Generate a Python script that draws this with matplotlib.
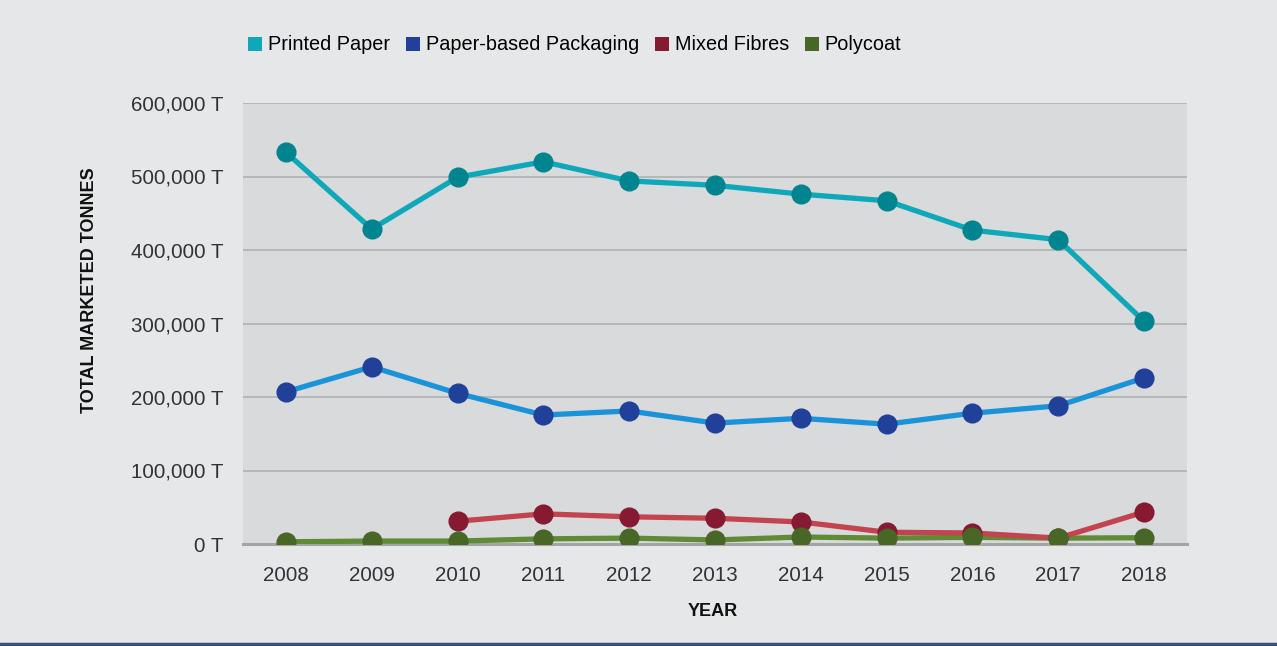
import matplotlib
matplotlib.use("Agg")
import matplotlib.pyplot as plt
from matplotlib.lines import Line2D
from matplotlib.patches import Patch
from matplotlib.ticker import FuncFormatter

years = [2008, 2009, 2010, 2011, 2012, 2013, 2014, 2015, 2016, 2017, 2018]
printed_paper = [533000, 428500, 499000, 520000, 494000, 488000, 476000, 467000, 427000, 414000, 303000]
packaging = [207000, 241000, 205000, 175500, 181000, 164500, 171000, 163000, 178000, 188000, 226000]
mixed_years = [2010, 2011, 2012, 2013, 2014, 2015, 2016, 2017, 2018]
mixed_fibres = [31000, 41000, 37000, 35000, 30000, 16000, 15000, 8000, 43500]
polycoat = [3000, 4000, 4000, 7000, 8000, 5500, 9500, 8000, 9000, 8000, 8500]
yticks = [0, 100000, 200000, 300000, 400000, 500000, 600000]
series_names = ["Printed Paper", "Paper-based Packaging", "Mixed Fibres", "Polycoat"]

plt.rcParams['font.family'] = ['Liberation Sans', 'DejaVu Sans']

fig = plt.figure(figsize=(12.77, 6.46), dpi=100)
fig.patch.set_facecolor('#e6e7e8')
ax = fig.add_axes([243/1277, 102/646, 944/1277, 441/646])
ax.set_facecolor('#d9dadb')

ser = [
    (years, printed_paper, '#0ea8b9', '#00848f'),
    (years, packaging, '#1a93d9', '#21409a'),
    (years, polycoat, '#5f8a36', '#486626'),
    (mixed_years, mixed_fibres, '#c1444f', '#851a32'),
]
for i, (x, y, lc, mc) in enumerate(ser):
    ax.plot(x, y, color=lc, lw=3.8, zorder=3 + i, solid_capstyle='round')
for i, (x, y, lc, mc) in enumerate([ser[0], ser[1], ser[3], ser[2]]):
    ax.plot(x, y, ls='none', marker='o', ms=13.5, color=mc, mec=mc, zorder=10 + i)

ax.set_xlim(2007.5, 2018.5)
ax.set_ylim(0, 600000)
ax.set_xticks(years)
ax.set_yticks(yticks)
ax.yaxis.set_major_formatter(FuncFormatter(lambda v, p: f"{int(v):,} T"))
ax.tick_params(length=0, labelsize=14.8, labelcolor='#333333')
ax.tick_params(axis='y', pad=14)
ax.tick_params(axis='x', pad=16)
ax.grid(axis='y', color='#b0b1b3', lw=1.2, zorder=1)
ax.set_axisbelow(True)
for s in ['top', 'right', 'left']:
    ax.spines[s].set_visible(False)
ax.spines['bottom'].set_color('#a3a4a6')
ax.spines['bottom'].set_linewidth(2.2)
ax.spines['bottom'].set_zorder(2)

fig.text(90/1277, 1 - 290/646, "TOTAL MARKETED TONNES", rotation=90, ha='center', va='center',
         fontsize=13, fontweight='bold', color='#111111')
fig.text(713/1277, 1 - 611/646, "YEAR", ha='center', va='center',
         fontsize=13, fontweight='bold', color='#111111')

handles = [Patch(facecolor=c, edgecolor='none') for c in ['#0ea8b9', '#21409a', '#851a32', '#486626']]
fig.legend(handles, series_names, loc='center left', bbox_to_anchor=(240/1277, 1 - 45/646),
           ncol=4, frameon=False, fontsize=14.3, handlelength=0.7, handleheight=0.7,
           handletextpad=0.3, columnspacing=0.8, borderaxespad=0)

fig.add_artist(Line2D([0, 1], [2.5/646, 2.5/646], color='#3a4f7a', lw=2.5, transform=fig.transFigure))

fig.savefig('out.png', dpi=100, facecolor=fig.get_facecolor())
